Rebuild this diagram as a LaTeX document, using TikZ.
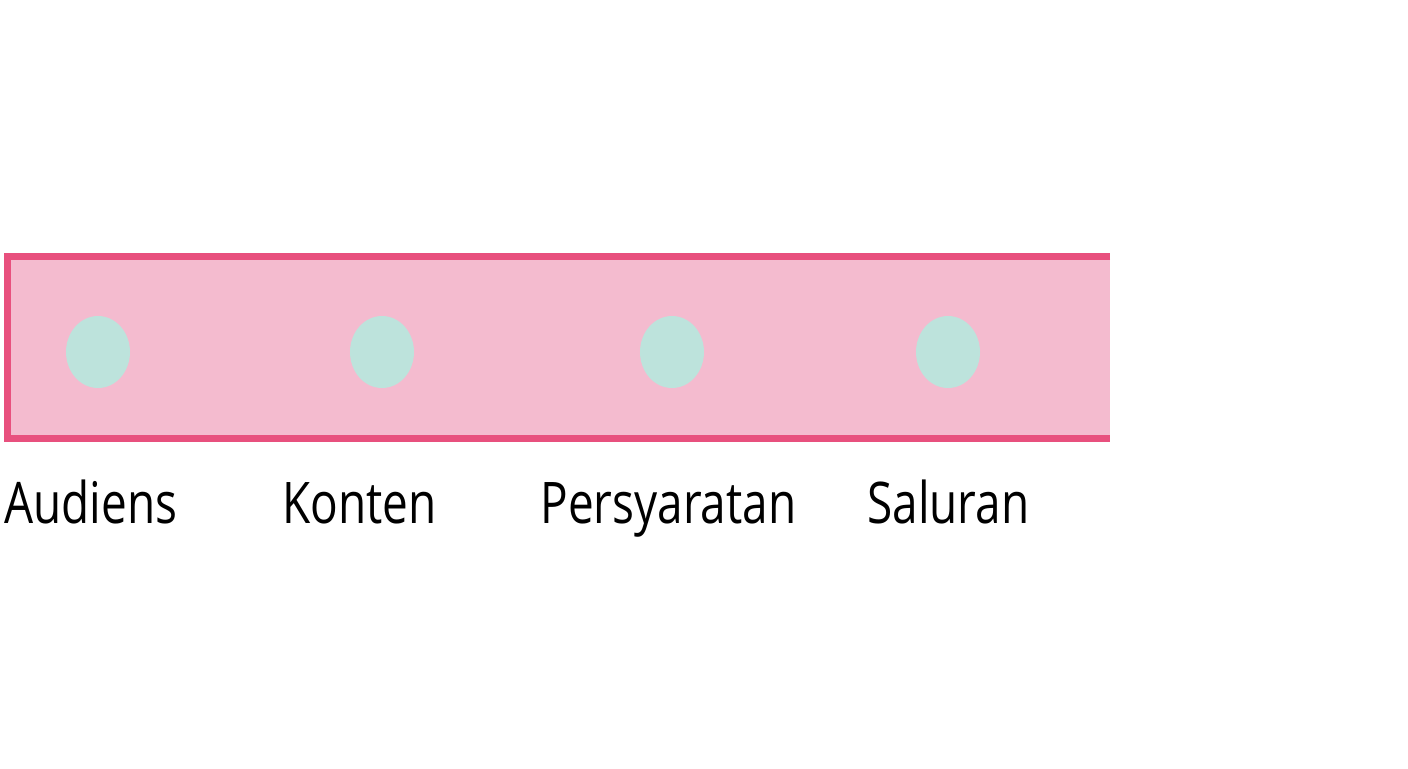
\documentclass[tikz,border=0pt]{standalone}
\usepackage{fontspec}
\setmainfont[FakeStretch=0.8]{Open Sans}
\usetikzlibrary{shapes.geometric}
\definecolor{bandfill}{HTML}{F4BBCF}
\definecolor{bandline}{HTML}{E8507E}
\definecolor{dotfill}{HTML}{BDE3DC}

\begin{document}
\begin{tikzpicture}[x=0.5pt,y=-0.5pt,
  dot/.style={ellipse, fill=dotfill, minimum width=32pt, minimum height=36pt, inner sep=0pt},
  lbl/.style={anchor=base west, inner sep=0pt, font=\fontsize{28.7}{32}\selectfont}]

% Cadre
\useasboundingbox (0,0) rectangle (1408,768);

% Bande rose
\fill[bandfill] (4,253) rectangle (1110,442);
\draw[bandline, line width=3.5pt] (1110,256.5) -- (7.5,256.5) -- (7.5,438.5) -- (1110,438.5);

% Les points
\node[dot] (aud) at (98,352) {};
\node[dot] (kon) at (382,352) {};
\node[dot] (per) at (672,352) {};
\node[dot] (sal) at (948,352) {};

% Les étiquettes
\node[lbl] (audl) at (4,523) {Audiens};
\node[lbl] (konl) at (282,523) {Konten};
\node[lbl] (perl) at (540,523) {Persyaratan};
\node[lbl] (sall) at (867,523) {Saluran};

\end{tikzpicture}
\end{document}
